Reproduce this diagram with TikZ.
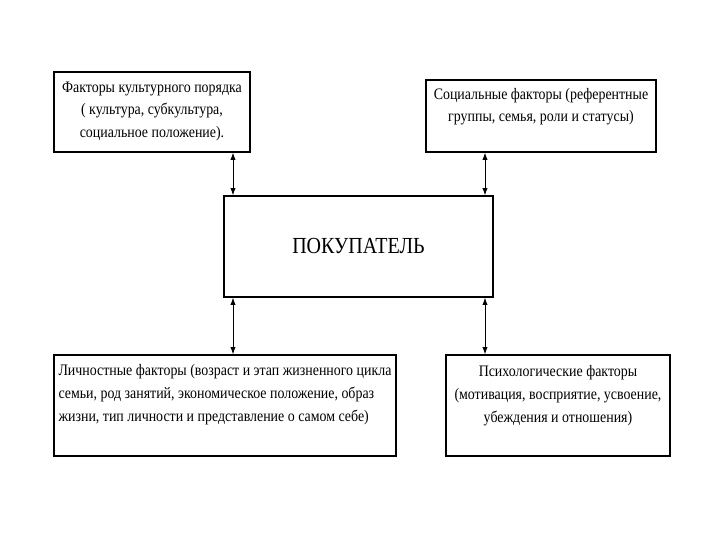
\documentclass[tikz,border=0pt]{standalone}
\usepackage{fontspec}
\setmainfont[FakeStretch=0.87]{Liberation Serif}
\usepackage{tikz}
\usetikzlibrary{arrows.meta,positioning}

\begin{document}
\begin{tikzpicture}[x=0.5pt,y=-0.5pt,font=\fontsize{8}{11.3}\selectfont,>={Latex[length=3.5pt,width=2.6pt]}]
  \tikzstyle{fac}=[draw,line width=0.8pt,inner xsep=1pt,inner ysep=2pt,align=center]
  \useasboundingbox[fill=white] (0,0) rectangle (720,540);
  \node[fac,minimum width=98pt,minimum height=40pt,text depth=2.5pt] (cult) at (152,112) {Факторы культурного порядка\\( культура, субкультура,\\социальное положение).};
  \node[fac,minimum width=115pt,minimum height=36pt,text depth=11pt] (soc) at (541,116) {Социальные факторы (референтные\\группы, семья, роли и статусы)};
  \node[fac,minimum width=134.5pt,minimum height=50.5pt,font=\fontsize{11.5}{13}\selectfont] (buyer) at (358.5,246.5) {ПОКУПАТЕЛЬ};
  \node[fac,align=left,minimum width=171pt,minimum height=50.5pt,text depth=12.5pt] (pers) at (225,405.5) {Личностные факторы (возраст и этап жизненного цикла\\семьи, род занятий, экономическое положение, образ\\жизни, тип личности и представление о самом себе)};
  \node[fac,minimum width=112pt,minimum height=50.5pt,text depth=11.5pt] (psy) at (558,405.5) {Психологические факторы\\(мотивация, восприятие, усвоение,\\убеждения и отношения)};
  \coordinate (xl) at (233,0);
  \coordinate (xr) at (485,0);
  \draw[<->] (cult.south -| xl) -- (buyer.north -| xl);
  \draw[<->] (soc.south -| xr) -- (buyer.north -| xr);
  \draw[<->] (buyer.south -| xl) -- (pers.north -| xl);
  \draw[<->] (buyer.south -| xr) -- (psy.north -| xr);
\end{tikzpicture}
\end{document}
